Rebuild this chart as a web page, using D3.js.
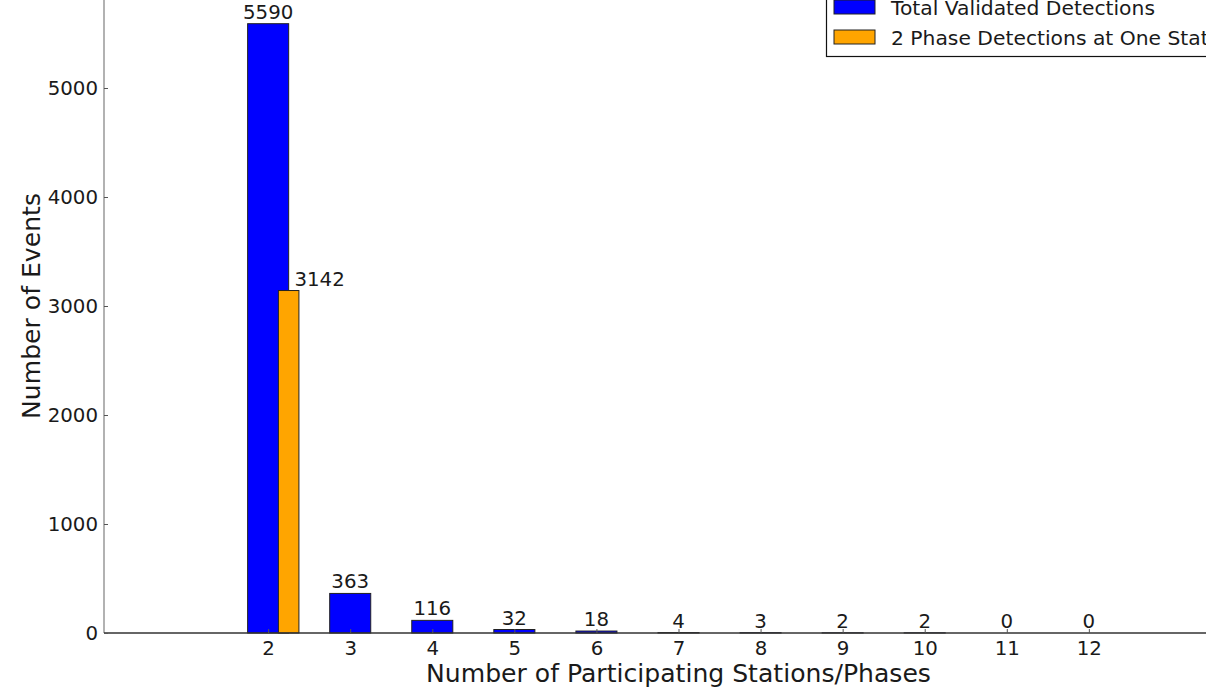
<!DOCTYPE html>
<html>
<head>
<meta charset="utf-8">
<script src="https://cdn.jsdelivr.net/npm/d3@7"></script>
<style>
  html, body { margin: 0; padding: 0; background: #fff; overflow: hidden; }
  text { font-family: "DejaVu Sans", sans-serif; fill: #1a1a1a; }
</style>
</head>
<body>
<svg width="1206" height="688"></svg>
<script>
// data
var stations = [2, 3, 4, 5, 6, 7, 8, 9, 10, 11, 12];
var totalDetections = [5590, 363, 116, 32, 18, 4, 3, 2, 2, 0, 0];
var twoPhaseStations = [2];
var twoPhaseDetections = [3142];
var yTicks = [0, 1000, 2000, 3000, 4000, 5000];
var seriesNames = ["Total Validated Detections", "2 Phase Detections at One Station"];
var seriesColors = ["#0000ff", "#ffa500"];

var svg = d3.select('svg');

// axes box (top and right parts fall outside the picture)
var x = d3.scaleLinear().domain([0, 14]).range([104, 1253]);
var y = d3.scaleLinear().domain([0, 6000]).range([633, -21]);

var blueWidth = 0.5, orangeWidth = 0.25, orangeShift = 0.125;
var tickFont = '19.8px';

// blue bars
svg.append('g').selectAll('rect')
  .data(stations)
  .enter().append('rect')
    .attr('x', function(d){ return x(d - blueWidth / 2); })
    .attr('width', function(){ return x(blueWidth) - x(0); })
    .attr('y', function(d, i){ return y(totalDetections[i]); })
    .attr('height', function(d, i){ return y(0) - y(totalDetections[i]); })
    .attr('fill', seriesColors[0])
    .attr('stroke', '#222')
    .attr('stroke-width', 1);

// orange bars
svg.append('g').selectAll('rect')
  .data(twoPhaseStations)
  .enter().append('rect')
    .attr('x', function(d){ return x(d + orangeShift); })
    .attr('width', function(){ return x(orangeWidth) - x(0); })
    .attr('y', function(d, i){ return y(twoPhaseDetections[i]); })
    .attr('height', function(d, i){ return y(0) - y(twoPhaseDetections[i]); })
    .attr('fill', seriesColors[1])
    .attr('stroke', '#222')
    .attr('stroke-width', 1);

// value labels
svg.append('g').selectAll('text')
  .data(stations)
  .enter().append('text')
    .attr('x', function(d){ return x(d); })
    .attr('y', function(d, i){ return y(totalDetections[i]) - 5; })
    .attr('text-anchor', 'middle')
    .attr('font-size', tickFont)
    .text(function(d, i){ return totalDetections[i]; });

svg.append('g').selectAll('text')
  .data(twoPhaseStations)
  .enter().append('text')
    .attr('x', function(d){ return x(d + 0.32); })
    .attr('y', function(d, i){ return y(twoPhaseDetections[i]) - 5; })
    .attr('text-anchor', 'start')
    .attr('font-size', tickFont)
    .text(function(d, i){ return twoPhaseDetections[i]; });

// spines
svg.append('line')
  .attr('x1', x(0)).attr('x2', x(0))
  .attr('y1', y(6000)).attr('y2', y(0))
  .attr('stroke', '#999').attr('stroke-width', 1.5);
svg.append('line')
  .attr('x1', x(0)).attr('x2', x(14))
  .attr('y1', y(0)).attr('y2', y(0))
  .attr('stroke', '#333').attr('stroke-width', 1.5);

// x axis, ticks point inward
var xAxis = svg.append('g')
  .attr('transform', 'translate(0,' + y(0) + ')')
  .call(d3.axisBottom(x).tickValues(stations).tickSizeInner(-4).tickSizeOuter(0).tickPadding(8));
xAxis.select('.domain').remove();
xAxis.selectAll('line').attr('stroke', '#555');
xAxis.selectAll('text').attr('font-size', tickFont).attr('fill', '#1a1a1a').attr('font-family', 'DejaVu Sans');

// y axis
var yAxis = svg.append('g')
  .attr('transform', 'translate(' + x(0) + ',0)')
  .call(d3.axisLeft(y).tickValues(yTicks).tickFormat(d3.format('d')).tickSizeInner(-4).tickSizeOuter(0).tickPadding(6));
yAxis.select('.domain').remove();
yAxis.selectAll('line').attr('stroke', '#555');
yAxis.selectAll('text').attr('font-size', tickFont).attr('fill', '#1a1a1a').attr('font-family', 'DejaVu Sans');

// axis titles
svg.append('text')
  .attr('x', (x(0) + x(14)) / 2)
  .attr('y', 682)
  .attr('text-anchor', 'middle')
  .attr('font-size', '25.1px')
  .text('Number of Participating Stations/Phases');

svg.append('text')
  .attr('transform', 'translate(40,' + (y(0) + y(6000)) / 2 + ') rotate(-90)')
  .attr('text-anchor', 'middle')
  .attr('font-size', '25.1px')
  .text('Number of Events');

// legend (upper right, partly cut off like the reference)
var legend = svg.append('g');
legend.append('rect')
  .attr('x', 826.5).attr('y', -20)
  .attr('width', 460).attr('height', 76.5)
  .attr('fill', '#fff').attr('stroke', '#111').attr('stroke-width', 1.2);

var rows = legend.selectAll('g.row')
  .data(seriesNames)
  .enter().append('g')
    .attr('class', 'row')
    .attr('transform', function(d, i){ return 'translate(834,' + (i * 30) + ')'; });
rows.append('rect')
  .attr('x', 0).attr('y', 0)
  .attr('width', 41).attr('height', 14)
  .attr('fill', function(d, i){ return seriesColors[i]; })
  .attr('stroke', '#222').attr('stroke-width', 1);
rows.append('text')
  .attr('x', 57).attr('y', 14.5)
  .attr('font-size', '20.3px')
  .text(function(d){ return d; });
</script>
</body>
</html>
